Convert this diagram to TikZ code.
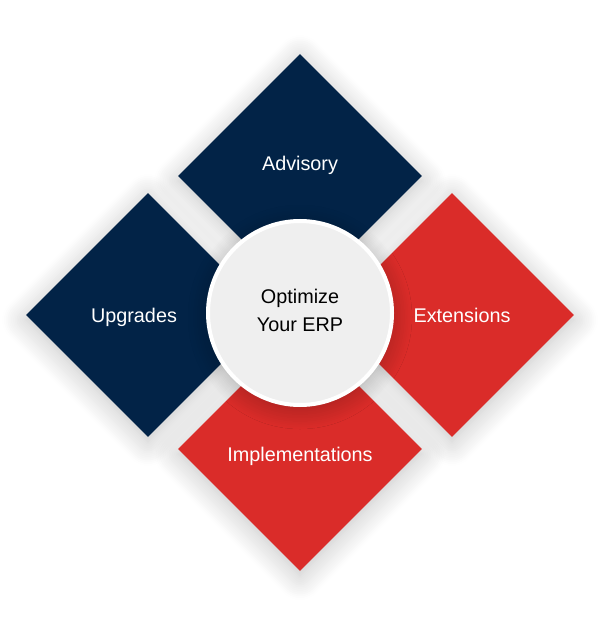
\documentclass[tikz,border=0pt]{standalone}
\usepackage{fontspec}
\setmainfont{Liberation Sans}
\usepackage{xcolor}
\usetikzlibrary{shapes.geometric,shadows.blur}
\definecolor{erpnavy}{HTML}{022347}
\definecolor{erpred}{HTML}{DA2C29}
\definecolor{erphub}{HTML}{EFEFEF}

\tikzset{
  tile/.style={diamond, aspect=1, minimum width=244pt, minimum height=244pt, inner sep=0pt,
    blur shadow={shadow xshift=0pt, shadow yshift=-5pt, shadow blur radius=24pt, shadow blur steps=14, shadow opacity=24}},
  tilelabel/.style={anchor=base, text=white, font=\fontsize{19.8}{24}\selectfont},
  hub/.style={circle, fill=erphub, draw=white, line width=4pt, minimum size=184pt, inner sep=0pt,
    blur shadow={shadow xshift=0pt, shadow yshift=-4pt, shadow blur radius=20pt, shadow blur steps=12, shadow opacity=28}},
  hublabel/.style={anchor=base, text=black, font=\fontsize{19.8}{24}\selectfont}
}

\begin{document}
\begin{tikzpicture}[x=1pt, y=-1pt]
        \useasboundingbox (0,0) rectangle (600,628);
        % four tiles
        \node[tile, fill=erpnavy] (advisory) at (300,176) {};
        \node[tile, fill=erpnavy] (upgrades) at (148,315) {};
        \node[tile, fill=erpred] (extensions) at (452,315) {};
        \node[tile, fill=erpred] (implementations) at (300,449) {};
        \node[tilelabel] (advisorytext) at ([yshift=5pt]advisory.center) {Advisory};
        \node[tilelabel] (upgradestext) at ([xshift=-14pt,yshift=-7.5pt]upgrades.center) {Upgrades};
        \node[tilelabel] (extensionstext) at ([xshift=10pt,yshift=-7pt]extensions.center) {Extensions};
        \node[tilelabel] (implementationstext) at ([yshift=-12pt]implementations.center) {Implementations};
        % centre
        \node[hub] (erp) at (300,313) {};
        \node[hublabel] (erptop) at ([yshift=9.5pt]erp.center) {Optimize};
        \node[hublabel] (erpbottom) at ([yshift=-18pt]erp.center) {Your ERP};
      \end{tikzpicture}
\end{document}
